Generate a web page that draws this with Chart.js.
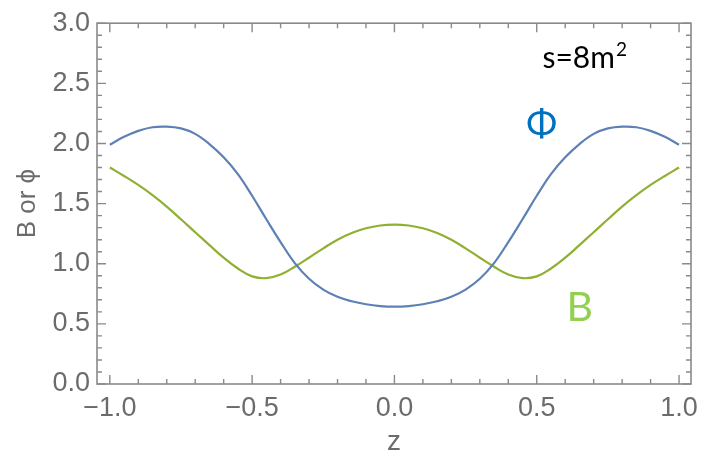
<!DOCTYPE html>
<html>
<head>
<meta charset="utf-8">
<script src="https://cdn.jsdelivr.net/npm/chart.js@4.4.1/dist/chart.umd.min.js"></script>
<style>
  html, body { margin: 0; padding: 0; background: #fff; }
  #wrap { width: 706px; height: 463px; }
</style>
</head>
<body>
<div id="wrap"><canvas id="grafico" width="706" height="463"></canvas></div>
<script>
// z positions of the samples
const zValores = [
  -1.00, -0.95, -0.90, -0.85, -0.80, -0.75, -0.70, -0.65, -0.60, -0.55,
  -0.50, -0.45, -0.40, -0.35, -0.30, -0.25, -0.20, -0.15, -0.10, -0.05,
   0.00,
   0.05,  0.10,  0.15,  0.20,  0.25,  0.30,  0.35,  0.40,  0.45,  0.50,
   0.55,  0.60,  0.65,  0.70,  0.75,  0.80,  0.85,  0.90,  0.95,  1.00
];

// phi(z)
const phiValores = [
  1.99, 2.055, 2.105, 2.135, 2.14, 2.125, 2.08, 1.995, 1.885, 1.745,
  1.565, 1.37, 1.18, 1.005, 0.875, 0.785, 0.725, 0.688, 0.663, 0.648,
  0.643,
  0.648, 0.663, 0.688, 0.725, 0.785, 0.875, 1.005, 1.18, 1.37, 1.565,
  1.745, 1.885, 1.995, 2.08, 2.125, 2.14, 2.135, 2.105, 2.055, 1.99
];

// B(z)
const bValores = [
  1.80, 1.73, 1.655, 1.57, 1.475, 1.37, 1.262, 1.155, 1.05, 0.96,
  0.895, 0.88, 0.91, 0.975, 1.05, 1.128, 1.20, 1.256, 1.295, 1.318,
  1.325,
  1.318, 1.295, 1.256, 1.20, 1.128, 1.05, 0.975, 0.91, 0.88, 0.895,
  0.96, 1.05, 1.155, 1.262, 1.37, 1.475, 1.57, 1.655, 1.73, 1.80
];

const ticksX = [-1.0, -0.5, 0.0, 0.5, 1.0];
const ticksY = [0.0, 0.5, 1.0, 1.5, 2.0, 2.5, 3.0];

const colorPhi = 'rgb(94,129,181)';
const colorB = 'rgb(143,176,50)';
const grisMarco = '#8a8a8a';
const grisTexto = '#6b6b6b';

// Marco con marcas hacia adentro en los cuatro lados + anotaciones
const marcoPlugin = {
  id: 'marco',
  afterDraw(chart) {
    const { ctx, chartArea: a, scales: { x, y } } = chart;
    ctx.save();
    ctx.strokeStyle = grisMarco;
    ctx.lineWidth = 1.6;
    ctx.strokeRect(a.left, a.top, a.right - a.left, a.bottom - a.top);

    ctx.lineWidth = 1.4;
    ctx.beginPath();
    for (let i = -10; i <= 10; i++) {
      const px = x.getPixelForValue(i / 10);
      const largo = i % 5 === 0 ? 9 : 5;
      ctx.moveTo(px, a.bottom); ctx.lineTo(px, a.bottom - largo);
      ctx.moveTo(px, a.top); ctx.lineTo(px, a.top + largo);
    }
    for (let i = 0; i <= 30; i++) {
      const py = y.getPixelForValue(i / 10);
      const largo = i % 5 === 0 ? 9 : 5;
      ctx.moveTo(a.left, py); ctx.lineTo(a.left + largo, py);
      ctx.moveTo(a.right, py); ctx.lineTo(a.right - largo, py);
    }
    ctx.stroke();

    // s=8m^2
    ctx.fillStyle = '#000';
    ctx.textBaseline = 'alphabetic';
    ctx.textAlign = 'left';
    ctx.font = '30px Lato, "Noto Sans", sans-serif';
    const sx = x.getPixelForValue(0.52);
    const sy = y.getPixelForValue(2.63);
    ctx.fillText('s=8m', sx, sy);
    const w = ctx.measureText('s=8m').width;
    ctx.font = '19px Lato, "Noto Sans", sans-serif';
    ctx.fillText('2', sx + w + 1, sy - 12);

    ctx.textAlign = 'center';
    ctx.textBaseline = 'middle';
    ctx.fillStyle = '#0070C0';
    ctx.font = '37px Lato, "Noto Sans", sans-serif';
    ctx.fillText('\u03A6', x.getPixelForValue(0.517), y.getPixelForValue(2.16));

    ctx.fillStyle = '#92D050';
    ctx.font = '41px Lato, "Noto Sans", sans-serif';
    ctx.fillText('B', x.getPixelForValue(0.651), y.getPixelForValue(0.63));
    ctx.restore();
  }
};

const ctx = document.getElementById('grafico').getContext('2d');
new Chart(ctx, {
  type: 'line',
  data: {
    datasets: [
      {
        label: 'phi',
        data: zValores.map((z, i) => ({ x: z, y: phiValores[i] })),
        borderColor: colorPhi,
        borderWidth: 2.2,
        pointRadius: 0,
        tension: 0.4,
        fill: false
      },
      {
        label: 'B',
        data: zValores.map((z, i) => ({ x: z, y: bValores[i] })),
        borderColor: colorB,
        borderWidth: 2.2,
        pointRadius: 0,
        tension: 0.4,
        fill: false
      }
    ]
  },
  options: {
    responsive: false,
    animation: false,
    layout: { padding: { top: 15, right: 9, left: 0, bottom: 0 } },
    plugins: { legend: { display: false }, tooltip: { enabled: false } },
    scales: {
      x: {
        type: 'linear',
        min: -1.045,
        max: 1.042,
        grid: { display: false, drawTicks: false },
        border: { display: false },
        afterBuildTicks: s => { s.ticks = ticksX.map(v => ({ value: v })); },
        afterFit: s => { s.height = 79; },
        ticks: {
          padding: 8,
          color: grisTexto,
          font: { family: '"Liberation Sans", Arial, sans-serif', size: 27 },
          maxRotation: 0,
          callback: v => (v < 0 ? '\u2212' : '') + Math.abs(v).toFixed(1)
        },
        title: {
          display: true,
          text: 'z',
          color: grisTexto,
          font: { family: '"Liberation Sans", Arial, sans-serif', size: 28 },
          padding: { top: 0, bottom: 4 }
        }
      },
      y: {
        type: 'linear',
        min: 0,
        max: 3,
        grid: { display: false, drawTicks: false },
        border: { display: false },
        afterBuildTicks: s => { s.ticks = ticksY.map(v => ({ value: v })); },
        afterFit: s => { s.width = 97; },
        ticks: {
          padding: 7,
          color: grisTexto,
          font: { family: '"Liberation Sans", Arial, sans-serif', size: 27 },
          callback: v => v.toFixed(1)
        },
        title: {
          display: true,
          text: 'B or \u03D5',
          color: grisTexto,
          font: { family: '"Liberation Sans", Arial, sans-serif', size: 26 },
          padding: { top: 12, bottom: 0 }
        }
      }
    }
  },
  plugins: [marcoPlugin]
});
</script>
</body>
</html>
